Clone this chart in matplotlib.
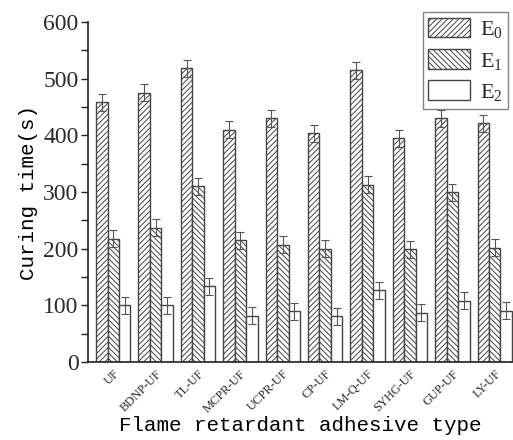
import matplotlib
matplotlib.use("Agg")
import matplotlib.pyplot as plt
import numpy as np
from matplotlib.ticker import MultipleLocator

categories = ["UF", "BDNP-UF", "TL-UF", "MCPR-UF", "UCPR-UF", "CP-UF",
              "LM-Q-UF", "SYHG-UF", "GUP-UF", "LY-UF"]
e0 = [458, 475, 518, 410, 430, 404, 515, 395, 430, 421]
e1 = [218, 237, 310, 215, 207, 200, 313, 199, 300, 202]
e2 = [100, 100, 134, 82, 90, 81, 127, 87, 108, 91]
e0_err = [15, 15, 15, 15, 15, 15, 15, 15, 15, 15]
e1_err = [15, 15, 15, 15, 15, 15, 15, 15, 15, 15]
e2_err = [15, 15, 15, 15, 15, 15, 15, 15, 15, 15]
series_labels = [r"$\mathrm{E_0}$", r"$\mathrm{E_1}$", r"$\mathrm{E_2}$"]

plt.rcParams['hatch.linewidth'] = 0.7
plt.rcParams['hatch.color'] = '#555555'
plt.rcParams['mathtext.fontset'] = 'custom'
plt.rcParams['mathtext.rm'] = 'Liberation Serif'
plt.rcParams['text.color'] = '#2a2a2a'
plt.rcParams['ytick.labelcolor'] = '#2a2a2a'
plt.rcParams['xtick.labelcolor'] = '#2a2a2a'

fig = plt.figure(figsize=(5.13, 4.40), dpi=100)
ax = fig.add_axes([0.172, 0.177, 0.828, 0.773])

x = np.arange(len(categories))
w = 0.27
edge = '#444444'
err_kw = dict(ecolor='#555555', elinewidth=0.8, capsize=3, capthick=0.8)
ax.bar(x - w, e0, w, yerr=e0_err, color='white', edgecolor=edge, hatch='//////',
       linewidth=1.0, label=series_labels[0], error_kw=err_kw)
ax.bar(x, e1, w, yerr=e1_err, color='white', edgecolor=edge, hatch='\\\\\\\\\\\\',
       linewidth=1.0, label=series_labels[1], error_kw=err_kw)
ax.bar(x + w, e2, w, yerr=e2_err, color='white', edgecolor=edge,
       linewidth=1.0, label=series_labels[2], error_kw=err_kw)

ax.set_xlim(-0.59, 9.43)
ax.set_ylim(0, 600)
ax.yaxis.set_major_locator(MultipleLocator(100))
ax.yaxis.set_minor_locator(MultipleLocator(50))
ax.spines['top'].set_visible(False)
ax.spines['right'].set_visible(False)
ax.spines['left'].set_linewidth(1.2)
ax.spines['bottom'].set_linewidth(1.2)
ax.spines['left'].set_color('#222222')
ax.spines['bottom'].set_color('#222222')
ax.tick_params(axis='y', which='major', direction='out', length=5, width=1.0,
               labelsize=17, color='#222222', pad=2)
ax.tick_params(axis='y', which='minor', direction='out', length=5, width=1.0, color='#222222')
ax.tick_params(axis='x', length=0, pad=4)
ax.set_xticks(x)
ax.set_xticklabels(categories, rotation=45, ha='right', rotation_mode='anchor',
                   fontsize=9, family='Liberation Serif')
for lab in ax.get_yticklabels():
    lab.set_family('Liberation Serif')

ax.set_ylabel("Curing time(s)", family='Liberation Mono', fontsize=15, labelpad=4)
ax.set_xlabel("Flame retardant adhesive type", family='Liberation Mono', fontsize=15)
ax.xaxis.set_label_coords(0.5, -0.158)

leg = ax.legend(loc='upper right', bbox_to_anchor=(508 / 513, 1 - 12 / 440),
                bbox_transform=fig.transFigure, fontsize=16,
                frameon=True, fancybox=False, edgecolor='#666666',
                handlelength=1.85, handleheight=1.0, borderpad=0.25,
                labelspacing=0.4, handletextpad=0.45, borderaxespad=0.0)
leg.get_frame().set_linewidth(1.0)

fig.savefig("out.png", dpi=100)
